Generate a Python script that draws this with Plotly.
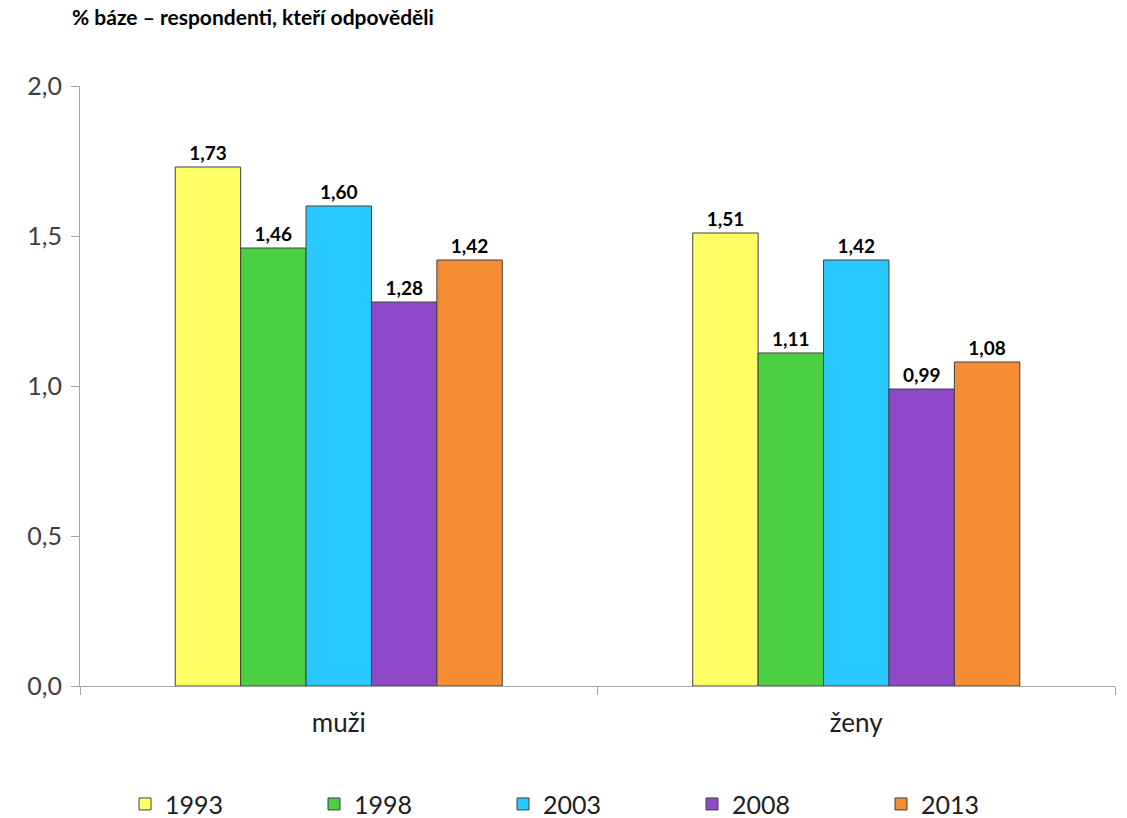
import plotly.graph_objects as go

categories = ["muži", "ženy"]
years = ["1993", "1998", "2003", "2008", "2013"]
values = {
    "1993": [1.73, 1.51],
    "1998": [1.46, 1.11],
    "2003": [1.60, 1.42],
    "2008": [1.28, 0.99],
    "2013": [1.42, 1.08],
}
colors = ["#FFFF66", "#4CD043", "#29C8FF", "#8F48C7", "#F58D35"]
title_text = "% báze – respondenti, kteří odpověděli"

FONT = "Lato, 'Open Sans', sans-serif"

fig = go.Figure()
for y, c in zip(years, colors):
    vals = values[y]
    fig.add_trace(go.Bar(
        name=y, x=categories, y=vals,
        marker=dict(color=c, line=dict(color="#404040", width=1)),
        text=[f"{v:.2f}".replace(".", ",") for v in vals],
        textposition="outside",
        textfont=dict(family=FONT, size=19, color="#000000", weight="bold"),
        cliponaxis=False,
    ))

fig.update_layout(
    width=1127, height=818,
    margin=dict(l=80, r=12, t=86, b=132, autoexpand=False),
    paper_bgcolor="white", plot_bgcolor="white",
    barmode="group", bargap=0.368, bargroupgap=0,
    separators=", ",
    font=dict(family=FONT, color="#404040"),
    showlegend=True,
    legend=dict(
        orientation="h", x=0.5, xanchor="center", y=-0.197, yanchor="middle",
        font=dict(family=FONT, size=25, color="#202020"),
        entrywidth=144, entrywidthmode="pixels",
        itemwidth=30,
    ),
    annotations=[dict(
        text="<b>" + title_text + "</b>", xref="paper", yref="paper",
        x=0.0, y=1.0, xanchor="left", yanchor="middle",
        xshift=-10, yshift=70,
        showarrow=False, font=dict(family=FONT, size=21, color="#000000"),
    )],
)

fig.update_yaxes(
    range=[0, 2.0], dtick=0.5, tickformat=".1f", automargin=False,
    showgrid=False, zeroline=False,
    showline=True, linecolor="#A6A6A6", linewidth=1,
    ticks="outside", ticklen=8, tickcolor="#A6A6A6",
    ticklabelstandoff=4,
    tickfont=dict(family=FONT, size=25, color="#404040"),
)
fig.update_xaxes(
    automargin=False,
    showgrid=False, showline=True, linecolor="#A6A6A6", linewidth=1,
    ticks="outside", ticklen=8, tickcolor="#A6A6A6", tickson="boundaries",
    ticklabelstandoff=14,
    tickfont=dict(family=FONT, size=26, color="#202020"),
)

fig.write_html(
    "out.html",
    config={"displayModeBar": False},
    post_script="document.body.style.margin='0';document.body.style.overflow='hidden';",
)
